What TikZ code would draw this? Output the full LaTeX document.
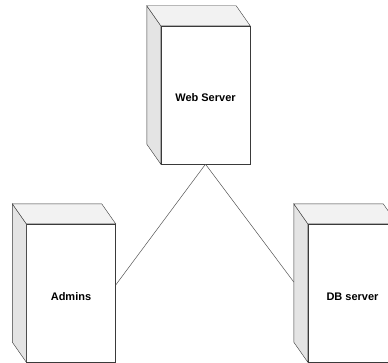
\documentclass[tikz,border=0pt]{standalone}
\usepackage{fontspec}
\setmainfont{Liberation Sans}
\definecolor{boxline}{HTML}{3A3A3A}
\definecolor{sidegray}{HTML}{E4E4E4}
\definecolor{topgray}{HTML}{F2F2F2}
\definecolor{wiregray}{HTML}{555555}
\begin{document}
\begin{tikzpicture}[x=1pt, y=1pt,
        box/.style={draw=boxline, fill=white, minimum width=89pt, minimum height=138pt,
            inner sep=0pt, text height=14pt, text depth=0pt,
            font=\bfseries\fontsize{11}{13}\selectfont},
        sideface/.style={draw=boxline, fill=sidegray},
        topface/.style={draw=boxline, fill=topgray},
        wire/.style={draw=wiregray, line width=0.5pt}]
    \useasboundingbox (0,0) rectangle (388,362);
    \clip (0,0) rectangle (388,362);
    % the three devices
    \node [box] (web) at (205.5, 267) {Web Server};
    \node [box] (admins) at (71, 69) {Admins};
    \node [box] (db) at (352.5, 69) {DB server};
    % depth of each device
    \foreach \dev in {web, admins, db} {
        \draw [sideface] (\dev.north west) -- ++(-14, 20) -- ([shift={(-14,20)}]\dev.south west) -- (\dev.south west) -- cycle;
        \draw [topface] (\dev.north west) -- ++(-14, 20) -- ([shift={(-14,20)}]\dev.north east) -- (\dev.north east) -- cycle;
    }
    % links
    \draw [wire] (web.south) -- ([yshift=8pt]admins.east);
    \draw [wire] (web.south) -- ([shift={(-14,11)}]db.west);
\end{tikzpicture}
\end{document}
